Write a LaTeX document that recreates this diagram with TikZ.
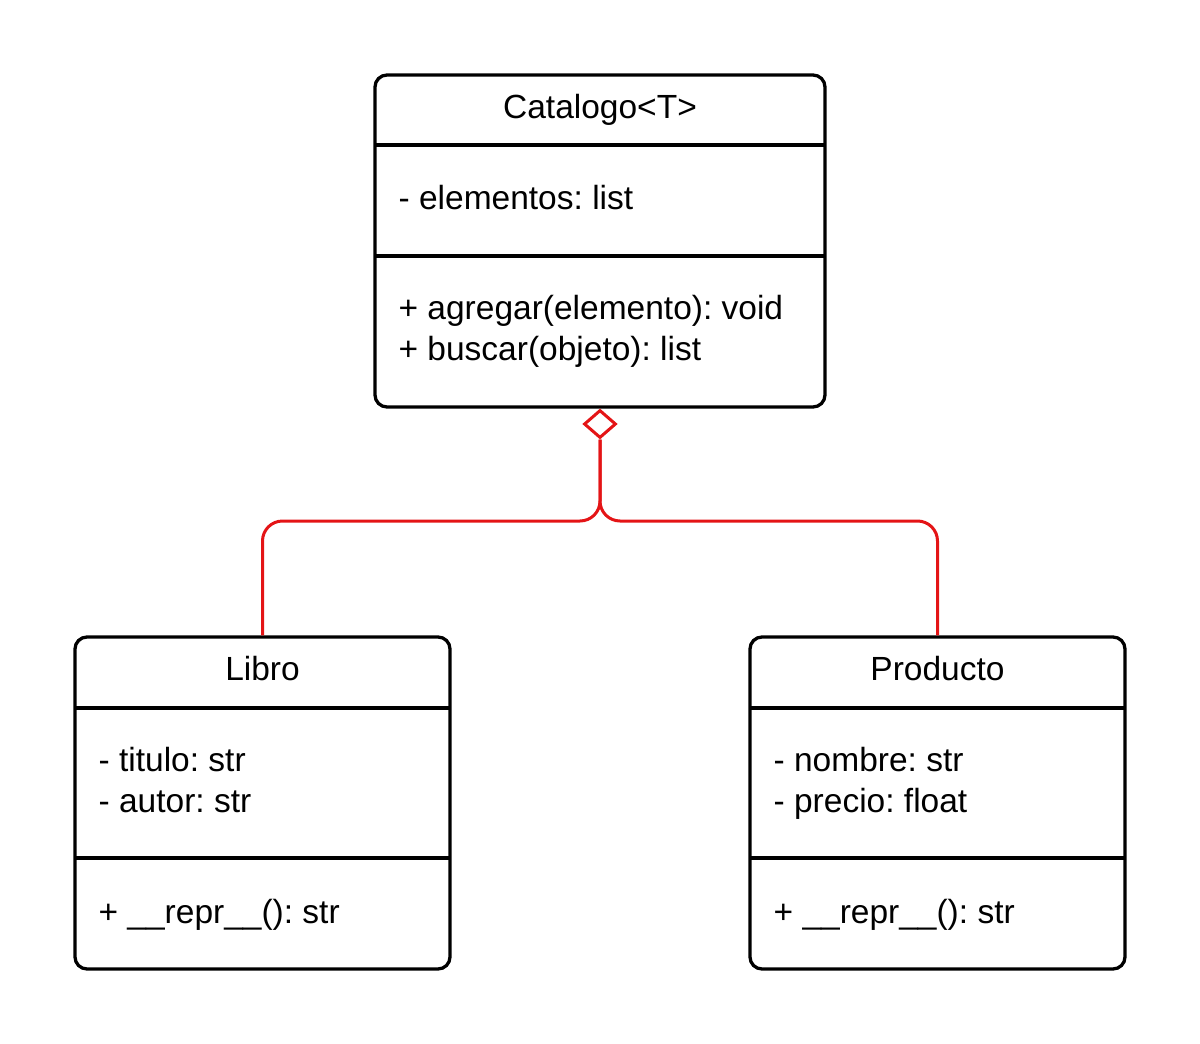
\documentclass[tikz,border=0pt]{standalone}
\usepackage{fontspec}
\setmainfont{Liberation Sans}
\usetikzlibrary{shapes.geometric}
\definecolor{assocred}{RGB}{228,20,22}
\frenchspacing

\begin{document}
\begin{tikzpicture}[x=1pt, y=-1pt, line width=3.3pt,
    classbox/.style = {draw, rectangle, rounded corners=12pt, inner sep=0pt},
    member/.style = {anchor=base west, inner sep=0pt, font=\fontsize{33.5}{41}\selectfont},
    title/.style = {anchor=base, inner sep=0pt, font=\fontsize{33.5}{41}\selectfont},
    assoc/.style = {draw=assocred, line width=3pt, rounded corners=20pt}]
    \useasboundingbox (0,0) rectangle (1200,1044);
    % classes
    \node[classbox, minimum width=450pt, minimum height=332pt] (catalogo) at (600,241) {};
    \node[classbox, minimum width=375pt, minimum height=332pt] (libro) at (262.5,803) {};
    \node[classbox, minimum width=375pt, minimum height=332pt] (producto) at (937.5,803) {};
    % compartments
    \draw (375,145) -- (825,145);
    \draw (375,256) -- (825,256);
    \draw (75,708) -- (450,708);
    \draw (75,858) -- (450,858);
    \draw (750,708) -- (1125,708);
    \draw (750,858) -- (1125,858);
    % texts
    \node[title] (cattitle) at (600,118) {Catalogo<T>};
    \node[member] (catattr) at (397,209) {- elementos: list};
    \node[member] (catop1) at (397,319) {+ agregar(elemento): void};
    \node[member] (catop2) at (397,360) {+ buscar(objeto): list};
    \node[title] (libtitle) at (262.5,680) {Libro};
    \node[member] (libattr1) at (97,771) {- titulo: str};
    \node[member] (libattr2) at (97,812) {- autor: str};
    \node[member] (libop) at (97,923) {+ \_\_repr\_\_(): str};
    \node[title] (prodtitle) at (937.5,680) {Producto};
    \node[member] (prodattr1) at (772,771) {- nombre: str};
    \node[member] (prodattr2) at (772,812) {- precio: float};
    \node[member] (prodop) at (772,923) {+ \_\_repr\_\_(): str};
    % aggregation
    \node[diamond, draw=assocred, line width=3pt, fill=white, minimum width=32pt, minimum height=28pt, inner sep=0pt] (agg) at (600,424) {};
    \coordinate (fork) at (600,521);
    \draw[assoc] (agg.south) -- (fork) -| (libro.north);
    \draw[assoc] (agg.south) -- (fork) -| (producto.north);
\end{tikzpicture}
\end{document}
